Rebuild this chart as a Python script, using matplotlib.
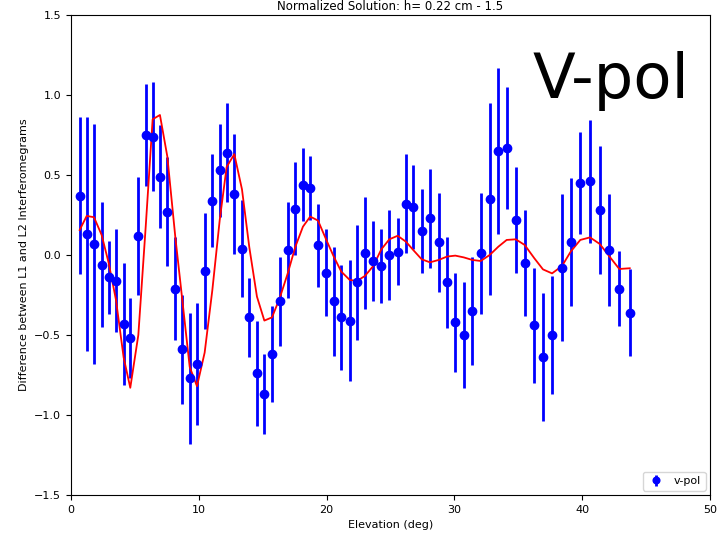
import numpy as np
import matplotlib
matplotlib.use('Agg')
import matplotlib.pyplot as plt

# elevation angles (deg)
elev = [0.68, 1.23, 1.80, 2.40, 2.95, 3.52, 4.12, 4.64, 5.27, 5.85,
        6.39, 6.96, 7.54, 8.16, 8.71, 9.29, 9.86, 10.46, 11.06, 11.64,
        12.18, 12.78, 13.38, 13.95, 14.55, 15.13, 15.73, 16.33, 16.96, 17.55,
        18.15, 18.72, 19.33, 19.98, 20.56, 21.15, 21.81, 22.38, 23.00, 23.65,
        24.28, 24.91, 25.56, 26.21, 26.78, 27.44, 28.09, 28.77, 29.42, 30.07,
        30.73, 31.40, 32.06, 32.76, 33.44, 34.09, 34.80, 35.50, 36.25, 36.93,
        37.64, 38.42, 39.10, 39.85, 40.61, 41.37, 42.10, 42.90, 43.72]

# measured L1-L2 difference
diff = [0.37, 0.13, 0.07, -0.06, -0.14, -0.16, -0.43, -0.52, 0.12, 0.75,
        0.74, 0.49, 0.27, -0.21, -0.59, -0.77, -0.68, -0.10, 0.34, 0.53,
        0.64, 0.38, 0.04, -0.39, -0.74, -0.87, -0.62, -0.29, 0.03, 0.29,
        0.44, 0.42, 0.06, -0.11, -0.29, -0.39, -0.41, -0.17, 0.01, -0.04,
        -0.07, 0.00, 0.02, 0.32, 0.30, 0.15, 0.23, 0.08, -0.17, -0.42,
        -0.50, -0.35, 0.01, 0.35, 0.65, 0.67, 0.22, -0.05, -0.44, -0.64,
        -0.50, -0.08, 0.08, 0.45, 0.46, 0.28, 0.03, -0.21, -0.36]

# error bars
err = [0.49, 0.73, 0.75, 0.39, 0.23, 0.32, 0.38, 0.25, 0.37, 0.32,
       0.34, 0.32, 0.34, 0.32, 0.34, 0.41, 0.38, 0.36, 0.29, 0.29,
       0.31, 0.375, 0.305, 0.245, 0.33, 0.25, 0.30, 0.28, 0.30, 0.29,
       0.23, 0.20, 0.26, 0.27, 0.34, 0.33, 0.38, 0.36, 0.35, 0.25,
       0.23, 0.28, 0.21, 0.31, 0.26, 0.26, 0.31, 0.31, 0.285, 0.31,
       0.33, 0.34, 0.38, 0.60, 0.52, 0.38, 0.33, 0.33, 0.36, 0.40,
       0.37, 0.46, 0.40, 0.32, 0.385, 0.40, 0.35, 0.235, 0.27]

# fitted model
model = [0.156, 0.244, 0.236, 0.125, -0.05, -0.28, -0.64, -0.83, -0.50, 0.18,
         0.848, 0.875, 0.615, 0.115, -0.28, -0.70, -0.82, -0.61, -0.22, 0.22,
         0.55, 0.63, 0.41, 0.05, -0.26, -0.41, -0.39, -0.27, -0.115, 0.05,
         0.177, 0.24, 0.215, 0.094, -0.01, -0.104, -0.156, -0.1625, -0.131, -0.069,
         0.035, 0.098, 0.12, 0.083, 0.031, -0.027, -0.046, -0.031, -0.01, -0.004,
         -0.015, -0.031, -0.0375, 0.0, 0.052, 0.094, 0.098, 0.0625, -0.02, -0.09,
         -0.115, -0.069, 0.021, 0.094, 0.11, 0.069, -0.006, -0.0875, -0.083]

fig = plt.figure(figsize=(7.22, 5.35), dpi=100)
ax = fig.add_axes([0.0983, 0.0748, 0.8851, 0.8972])

ax.errorbar(elev, diff, yerr=err, fmt='o', color='blue', markersize=6,
            elinewidth=2, capsize=0, label='v-pol')
ax.plot(elev, model, color='red', linewidth=1.3)

ax.set_xlim(0, 50)
ax.set_ylim(-1.5, 1.5)
ax.set_xticks(np.arange(0, 51, 10))
ax.set_yticks(np.arange(-1.5, 1.51, 0.5))
ax.tick_params(labelsize=8)
ax.set_xlabel('Elevation (deg)', fontsize=8)
ax.set_ylabel('Difference between L1 and L2 Interferomegrams', fontsize=8)
ax.legend(loc='lower right', fontsize=8, markerscale=0.8, handlelength=1.6,
          borderaxespad=0.4)

fig.text(0.738, 0.817, 'V-pol', fontsize=45, va='baseline')
fig.text(0.54, 1 - 10 / 535, 'Normalized Solution: h= 0.22 cm - 1.5',
         fontsize=8.5, ha='center', va='baseline')

fig.savefig('out.png', dpi=100)
